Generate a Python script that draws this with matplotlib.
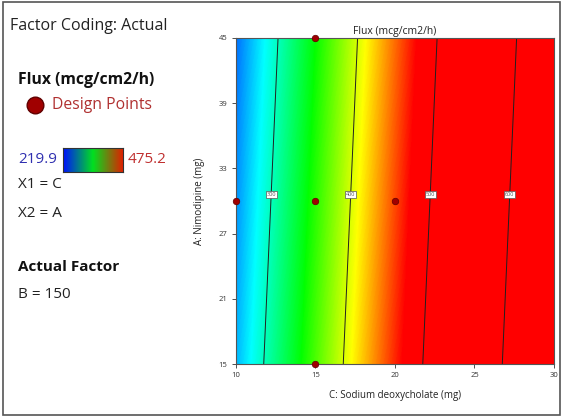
import numpy as np
import matplotlib.pyplot as plt
from matplotlib.colors import LinearSegmentedColormap, Normalize
from matplotlib.patches import Rectangle

plt.rcParams['font.family'] = ['Open Sans', 'DejaVu Sans']

# surface (flux at grid nodes)
c_vals = [10, 15, 20, 25, 30]
a_vals = [15, 30, 45]
flux = [[265, 365, 465, 565, 665],
        [256, 356, 456, 556, 656],
        [247, 347, 447, 547, 647]]
levels = [300, 400, 500, 600]
label_a = 30.6
flux_min, flux_max = 219.9, 475.2

# design points
pts_c = [10, 15, 20, 15, 15]
pts_a = [30, 30, 30, 45, 15]

x_ticks = [10, 15, 20, 25, 30]
y_ticks = [15, 21, 27, 33, 39, 45]

cmap = LinearSegmentedColormap.from_list(
    'dx', ['#0000ff', '#00ffff', '#00ff00', '#ffff00', '#ff0000'])
legend_cmap = LinearSegmentedColormap.from_list(
    'dxleg', ['#0010ff', '#00e020', '#e02000'])
norm = Normalize(flux_min, flux_max)

fig = plt.figure(figsize=(5.63, 4.17), dpi=100)
fig.patches.append(Rectangle((0.005, 0.005), 0.99, 0.99, transform=fig.transFigure,
                             fill=False, edgecolor='#555555', lw=1.2))

ax = fig.add_axes([0.419, 0.127, 0.565, 0.782])
C, A = np.meshgrid(c_vals, a_vals)
Z = np.array(flux, dtype=float)
fill_levels = np.linspace(flux_min, flux_max, 256)
ax.contourf(C, A, Z, levels=fill_levels, cmap=cmap, norm=norm, extend='both',
            antialiased=False)
cs = ax.contour(C, A, Z, levels=levels, colors='#202020', linewidths=0.7)

# label x positions along label_a from the grid rows
row = np.array([np.interp(label_a, a_vals, Z[:, j]) for j in range(len(c_vals))])
manual = [(np.interp(l, row, c_vals), label_a) for l in levels]
lbls = ax.clabel(cs, fmt='%d', fontsize=4, manual=manual, inline=False)
for t in lbls:
    t.set_rotation(0)
    t.set_color('#555555')
    t.set_bbox(dict(facecolor='white', edgecolor='#555555', lw=0.5, pad=0.6))

ax.scatter(pts_c, pts_a, s=22, color='#a00000', edgecolor='#600000', lw=0.5,
           zorder=5, clip_on=False)

ax.set_xlim(10, 30)
ax.set_ylim(15, 45)
ax.set_xticks(x_ticks)
ax.set_yticks(y_ticks)
ax.tick_params(labelsize=5.5, length=3, width=0.6, colors='#333333', pad=3)
for s in ax.spines.values():
    s.set_color('#555555')
    s.set_linewidth(0.8)
ax.set_title('Flux (mcg/cm2/h)', fontsize=7.5, pad=3, color='#222222')
ax.set_xlabel('C: Sodium deoxycholate (mg)', fontsize=7, labelpad=8, color='#222222')
ax.set_ylabel('A: Nimodipine (mg)', fontsize=7, labelpad=10, color='#222222')

# left side legend panel
def ftxt(x, y, s, **kw):
    fig.text(x / 563, 1 - y / 417, s, va='center', ha='left', **kw)

ftxt(10, 26, 'Factor Coding: Actual', fontsize=11.5, color='#222222')
ftxt(18, 80, 'Flux (mcg/cm2/h)', fontsize=11.3, fontweight='bold', color='#111111')
fig.add_artist(plt.Line2D([35 / 563], [1 - 105 / 417], marker='o', markersize=12,
                          color='#a00000', markeredgecolor='#600000',
                          transform=fig.transFigure))
ftxt(52, 105, 'Design Points', fontsize=11.3, color='#b03030')
ftxt(18, 159, '219.9', fontsize=11, color='#3030b0')
cax = fig.add_axes([63 / 563, 1 - 172 / 417, 60 / 563, 24 / 417])
cax.imshow(np.linspace(0, 1, 256)[None, :], aspect='auto', cmap=legend_cmap)
cax.set_xticks([])
cax.set_yticks([])
for s in cax.spines.values():
    s.set_color('#333333')
ftxt(128, 159, '475.2', fontsize=11, color='#c03030')
ftxt(18, 185, 'X1 = C', fontsize=11, color='#222222')
ftxt(18, 213, 'X2 = A', fontsize=11, color='#222222')
ftxt(18, 267, 'Actual Factor', fontsize=11, fontweight='bold', color='#111111')
ftxt(18, 295, 'B = 150', fontsize=11, color='#222222')

fig.savefig('out.png', dpi=100)
